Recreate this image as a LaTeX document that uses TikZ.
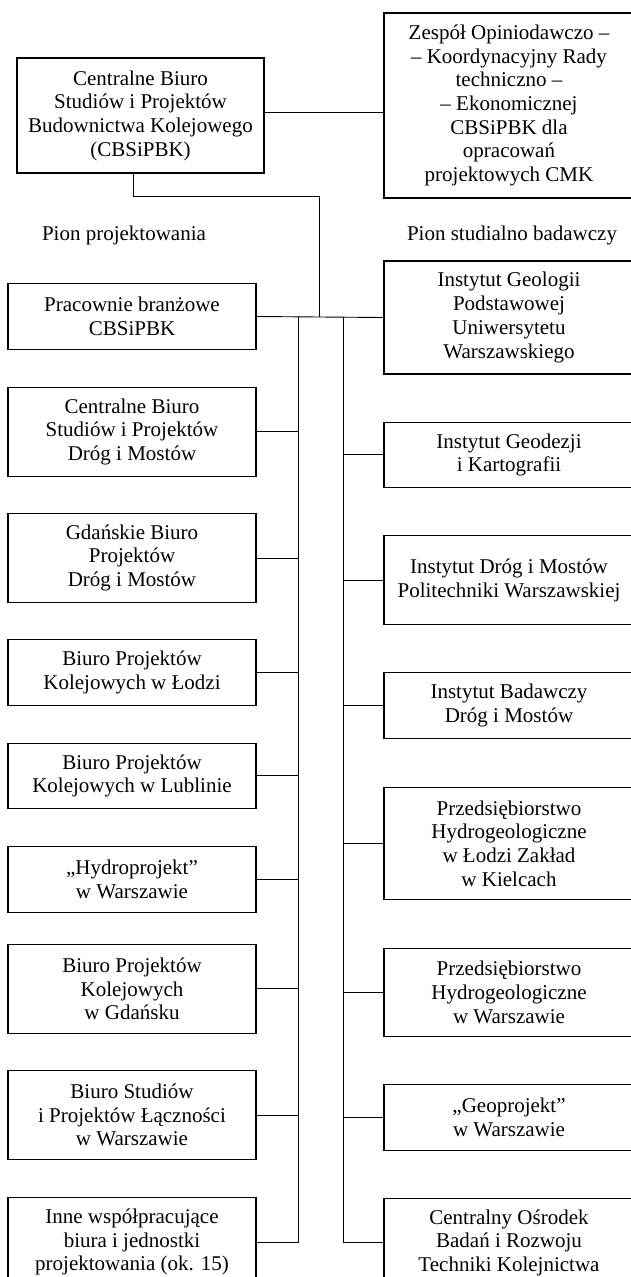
\documentclass[tikz,border=0pt]{standalone}
\usepackage{fontspec}
\setmainfont{Liberation Serif}
\usepackage{tikz}
\usetikzlibrary{positioning}

\begin{document}
\begin{tikzpicture}[x=1pt, y=1pt, node distance=36pt]
\tikzstyle{unit} = [rectangle, draw=black, line width=1.1pt, align=center, inner sep=0pt, font=\fontsize{21}{23.7}\selectfont]
\tikzstyle{leftunit} = [unit, minimum width=248pt]
\tikzstyle{rightunit} = [unit, minimum width=250pt]
\tikzstyle{two} = [minimum height=65.5pt]
\tikzstyle{three} = [minimum height=89pt]
\tikzstyle{four} = [minimum height=113pt]
\tikzstyle{caption} = [font=\fontsize{21}{23.7}\selectfont]
\tikzstyle{link} = [line width=0.9pt]

\useasboundingbox (0,0) rectangle (630,-1277);

% top level
\node (cbs) [unit, minimum width=247pt, minimum height=115pt] at (140.5,-115.5) {Centralne Biuro\\Studiów i Projektów\\Budownictwa Kolejowego\\(CBSiPBK)};
\node (zespol) [unit, minimum width=250pt, minimum height=185pt] at (509,-105.5) {Zespół Opiniodawczo –\\– Koordynacyjny Rady\\techniczno –\\– Ekonomicznej\\CBSiPBK dla\\opracowań\\projektowych CMK};

\node (pionp) [caption] at (124,-235) {Pion projektowania};
\node (pions) [caption] at (512,-235) {Pion studialno badawczy};

% pion projektowania
\node (pracownie) [leftunit, two] at (132,-316.5) {Pracownie branżowe\\CBSiPBK};
\node (cbdim) [leftunit, three, below=37pt of pracownie] {Centralne Biuro\\Studiów i Projektów\\Dróg i Mostów};
\node (gdanskie) [leftunit, three, below=of cbdim] {Gdańskie Biuro\\Projektów\\Dróg i Mostów};
\node (lodz) [leftunit, two, below=of gdanskie] {Biuro Projektów\\Kolejowych w Łodzi};
\node (lublin) [leftunit, two, below=37pt of lodz] {Biuro Projektów\\Kolejowych w Lublinie};
\node (hydro) [leftunit, two, below=37pt of lublin] {„Hydroprojekt”\\w Warszawie};
\node (gdansk) [leftunit, three, below=31pt of hydro] {Biuro Projektów\\Kolejowych\\w Gdańsku};
\node (lacznosci) [leftunit, three, below=of gdansk] {Biuro Studiów\\i Projektów Łączności\\w Warszawie};
\node (inne) [leftunit, three, below=37pt of lacznosci] {Inne współpracujące\\biura i jednostki\\projektowania (ok. 15)};

% pion studialno badawczy
\node (geologii) [rightunit, four] at (509,-317.5) {Instytut Geologii\\Podstawowej\\Uniwersytetu\\Warszawskiego};
\node (geodezji) [rightunit, two, below=47pt of geologii] {Instytut Geodezji\\i Kartografii};
\node (dimpw) [rightunit, three, below=47pt of geodezji] {Instytut Dróg i Mostów\\Politechniki Warszawskiej};
\node (badawczy) [rightunit, two, below=47pt of dimpw] {Instytut Badawczy\\Dróg i Mostów};
\node (phlodz) [rightunit, minimum height=112pt, below=48pt of badawczy] {Przedsiębiorstwo\\Hydrogeologiczne\\w Łodzi Zakład\\w Kielcach};
\node (phwaw) [rightunit, minimum height=88pt, below=48pt of phlodz] {Przedsiębiorstwo\\Hydrogeologiczne\\w Warszawie};
\node (geoprojekt) [rightunit, two, below=47pt of phwaw] {„Geoprojekt”\\w Warszawie};
\node (osrodek) [rightunit, three, below=47pt of geoprojekt] {Centralny Ośrodek\\Badań i Rozwoju\\Techniki Kolejnictwa};

\coordinate (bend) at (319,-196);
\coordinate (lbus) at (298,-316.5);
\coordinate (rbus) at (343,-316.5);

\draw [link] ([yshift=3.5pt]cbs.east) -- ([yshift=3.5pt]cbs.east -| zespol.west);
\draw [link] ([xshift=-7.5pt]cbs.south) |- (bend) -- (bend |- pracownie.east);
\draw [link] (pracownie.east) -- (geologii.west);

\draw [link] (lbus) |- (inne.east);
\draw [link] (cbdim.east) -- (cbdim.east -| lbus);
\draw [link] (gdanskie.east) -- (gdanskie.east -| lbus);
\draw [link] (lodz.east) -- (lodz.east -| lbus);
\draw [link] (lublin.east) -- (lublin.east -| lbus);
\draw [link] (hydro.east) -- (hydro.east -| lbus);
\draw [link] (gdansk.east) -- (gdansk.east -| lbus);
\draw [link] (lacznosci.east) -- (lacznosci.east -| lbus);

\draw [link] (rbus) |- (osrodek.west);
\draw [link] (geodezji.west) -- (geodezji.west -| rbus);
\draw [link] (dimpw.west) -- (dimpw.west -| rbus);
\draw [link] (badawczy.west) -- (badawczy.west -| rbus);
\draw [link] (phlodz.west) -- (phlodz.west -| rbus);
\draw [link] (phwaw.west) -- (phwaw.west -| rbus);
\draw [link] (geoprojekt.west) -- (geoprojekt.west -| rbus);

\end{tikzpicture}
\end{document}
